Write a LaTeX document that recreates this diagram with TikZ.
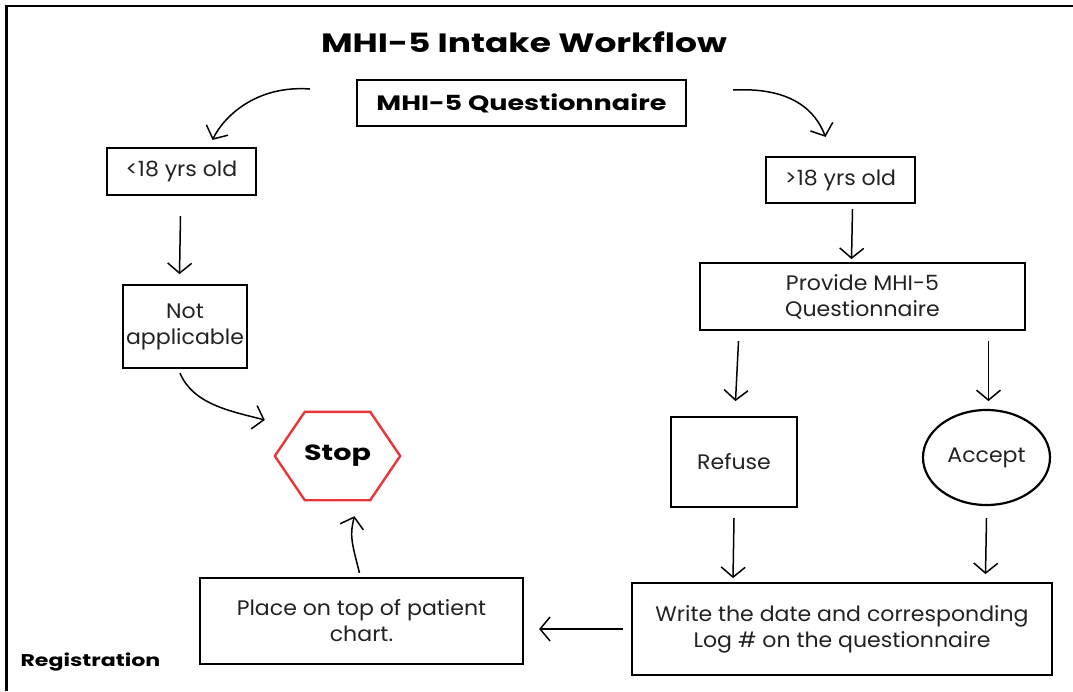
\documentclass[tikz,border=0pt]{standalone}
\usepackage{fontspec}
\setmainfont{Poppins}
\newfontfamily\wideb[FakeStretch=1.3]{Poppins Bold}
\newfontfamily\widerg[FakeStretch=1.05]{Poppins}
\usetikzlibrary{arrows.meta,calc,shapes.geometric}
\definecolor{txt}{HTML}{222222}
\definecolor{stopred}{HTML}{E8353A}
\begin{document}
\begin{tikzpicture}[x=1pt,y=-1pt,
  box/.style={draw=black,line width=2.2pt,inner sep=0pt,align=center,text=txt,font=\widerg\fontsize{21}{26}\selectfont},
  arr/.style={line width=1.5pt,-{Straight Barb[length=10pt,width=24pt,line width=1.5pt]}},
]
\useasboundingbox (0,0) rectangle (1073,691);
\draw[line width=2.5pt] (6.5,691) -- (6.5,6) -- (1073,6);
\node[font=\wideb\fontsize{26.5}{30}\selectfont,text=black] (title) at (524,42) {MHI-5 Intake Workflow};
\node[box,minimum width=329pt,minimum height=46pt,font=\wideb\fontsize{20.8}{24}\selectfont,text=black] (q) at (521.5,103) {MHI-5 Questionnaire};
\node[box,minimum width=149pt,minimum height=47pt] (lt) at (181.5,171.5) {<18 yrs old};
\node[box,minimum width=149pt,minimum height=46pt] (gt) at (840.5,180) {>18 yrs old};
\node[box,minimum width=124pt,minimum height=83pt] (na) at (185,326.5) {Not\\applicable};
\node[minimum width=125pt,minimum height=88pt,inner sep=0pt,font=\wideb\fontsize{22}{26}\selectfont,text=black] (stop) at (337.5,456) {Stop};
\draw[stopred,line width=2.4pt,line join=miter] (stop.west) -- ($(stop.north west)+(30,0)$) -- ($(stop.north east)+(-30,0)$) -- (stop.east) -- ($(stop.south east)+(-30,0)$) -- ($(stop.south west)+(30,0)$) -- cycle;
\node[box,minimum width=325pt,minimum height=67pt] (prov) at (862.5,296.5) {Provide MHI-5\\Questionnaire};
\node[box,minimum width=126pt,minimum height=90pt] (ref) at (734,462) {Refuse};
\node[box,ellipse,minimum width=127pt,minimum height=95pt] (acc) at (986.5,457.5) {Accept};
\node[box,minimum width=420pt,minimum height=92pt] (write) at (842,629) {Write the date and corresponding\\Log \# on the questionnaire};
\node[box,minimum width=323pt,minimum height=86pt] (place) at (361.5,621) {Place on top of patient\\chart.};
\node[font=\wideb\fontsize{17}{20}\selectfont,text=black,anchor=west] (reg) at (17,662) {Registration};
% connectors
\draw[arr] ($(q.west)+(-46,-14)$) .. controls ($(q.west)+(-100,-18)$) and ($(lt.north)+(42,-30)$) .. ($(lt.north)+(31,-7)$);
\draw[arr] ($(q.east)+(46,-13)$) .. controls ($(q.east)+(105,-16)$) and ($(gt.north)+(-25,-45)$) .. ($(gt.north)+(-15,-19)$);
\draw[arr] ($(lt.south)+(-1,20)$) -- ($(lt.south)+(-2,78)$);
\draw[arr] ($(gt.south)+(12,5)$) -- ($(gt.south)+(11,55)$);
\draw[arr] ($(na.south)+(-5,4)$) .. controls ($(na.south)+(8,35)$) and ($(stop.west)+(-45,-45)$) .. ($(stop.west)+(-10,-36)$);
\draw[arr] ($(place.north)+(-2,-4)$) .. controls ($(place.north)+(-10,-35)$) and ($(stop.south)+(12,35)$) .. ($(stop.south)+(17,16)$);
\draw[arr] ($(prov.south)+(-124,10)$) -- ($(prov.south)+(-127,70)$);
\draw[arr] ($(prov.south)+(126,10)$) -- ($(prov.south)+(126,70)$);
\draw[arr] ($(ref.south)+(0,10)$) -- ($(ref.south)+(-1,70)$);
\draw[arr] ($(acc.south)+(0,12)$) -- ($(acc.south)+(-1,68)$);
\draw[arr] ($(write.west)+(-8,0)$) -- ($(place.east)+(15,8)$);
\end{tikzpicture}
\end{document}
